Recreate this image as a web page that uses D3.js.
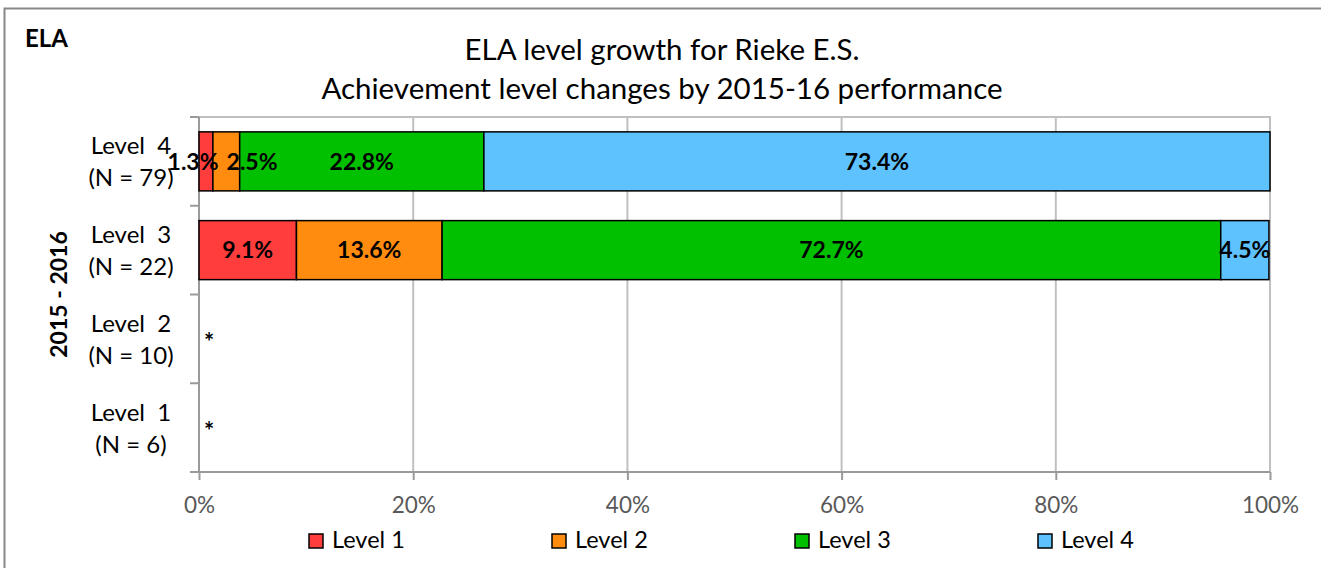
<!DOCTYPE html>
<html>
<head>
<meta charset="utf-8">
<script src="https://cdn.jsdelivr.net/npm/d3@7"></script>
<style>
  body { margin: 0; background: #fff; overflow: hidden; }
  svg { display: block; font-family: Lato, "Open Sans", sans-serif; }
</style>
</head>
<body>
<svg id="chart" width="1321" height="568"></svg>
<script>
// chart data
const categories = ['Level 4', 'Level 3', 'Level 2', 'Level 1'];
const counts = [79, 22, 10, 6];
const suppressed = [false, false, true, true];
const seriesNames = ['Level 1', 'Level 2', 'Level 3', 'Level 4'];
const level1Pct = [1.3, 9.1, 0, 0];
const level2Pct = [2.5, 13.6, 0, 0];
const level3Pct = [22.8, 72.7, 0, 0];
const level4Pct = [73.4, 4.5, 0, 0];
const xTicks = [0, 20, 40, 60, 80, 100];
const colors = ['#ff3d3d', '#ff8c0f', '#00c000', '#5ec2ff'];

const rows = categories.map((cat, i) => ({
  cat,
  n: counts[i],
  suppressed: suppressed[i],
  'Level 1': level1Pct[i],
  'Level 2': level2Pct[i],
  'Level 3': level3Pct[i],
  'Level 4': level4Pct[i],
}));

const svg = d3.select('#chart');
const plot = { left: 199, right: 1270, top: 117, bottom: 472 };
const axisGray = '#9a9a9a';

// outer frame, only the left and top edges are inside the picture
svg.append('path')
  .attr('d', 'M4.5,568V8.5H1321')
  .attr('fill', 'none').attr('stroke', '#888').attr('stroke-width', 2);

svg.append('text')
  .attr('x', 25).attr('y', 47)
  .attr('font-size', 24).attr('font-weight', 'bold')
  .text('ELA');

// titles
const titleLines = ['ELA level growth for Rieke E.S.', 'Achievement level changes by 2015-16 performance'];
svg.selectAll('text.title')
  .data(titleLines)
  .join('text')
  .attr('class', 'title')
  .attr('x', 662).attr('y', (d, i) => 60 + i * 39)
  .attr('text-anchor', 'middle')
  .attr('font-size', 29.5)
  .text(d => d);

const x = d3.scaleLinear().domain([0, 100]).range([plot.left, plot.right]);
const y = d3.scaleBand().domain(categories)
  .range([plot.top, plot.bottom])
  .paddingInner(0.335).paddingOuter(0.1675);

// vertical gridlines
svg.append('g')
  .selectAll('line')
  .data(xTicks)
  .join('line')
  .attr('x1', d => x(d)).attr('x2', d => x(d))
  .attr('y1', plot.top).attr('y2', plot.bottom)
  .attr('stroke', '#c0c0c0').attr('stroke-width', 2);

// top border of the plot
svg.append('line')
  .attr('x1', plot.left - 9).attr('x2', plot.right + 1)
  .attr('y1', plot.top).attr('y2', plot.top)
  .attr('stroke', '#c0c0c0').attr('stroke-width', 2);

// bottom axis
const xAxis = d3.axisBottom(x)
  .tickValues(xTicks)
  .tickSize(8)
  .tickFormat(d => d + '%');
const xAxisGroup = svg.append('g')
  .attr('transform', `translate(0,${plot.bottom})`)
  .call(xAxis);
xAxisGroup.select('.domain').attr('stroke', axisGray).attr('stroke-width', 2)
  .attr('d', `M${plot.left},0H${plot.right}`);
xAxisGroup.selectAll('.tick line').attr('stroke', axisGray).attr('stroke-width', 2);
xAxisGroup.selectAll('.tick text')
  .attr('y', 41).attr('dy', 0)
  .attr('font-size', 22.5).attr('fill', '#595959')
  .attr('font-family', 'Lato, "Open Sans", sans-serif');

// left axis line + band boundary ticks
svg.append('line')
  .attr('x1', plot.left).attr('x2', plot.left)
  .attr('y1', plot.top).attr('y2', plot.bottom)
  .attr('stroke', axisGray).attr('stroke-width', 2);
const bandEdges = d3.range(categories.length + 1)
  .map(i => plot.top + i * (plot.bottom - plot.top) / categories.length);
svg.append('g')
  .selectAll('line')
  .data(bandEdges)
  .join('line')
  .attr('x1', plot.left - 9).attr('x2', plot.left)
  .attr('y1', d => d).attr('y2', d => d)
  .attr('stroke', axisGray).attr('stroke-width', 2);

// category labels (two lines)
const catLabels = svg.append('g')
  .selectAll('text')
  .data(rows)
  .join('text')
  .attr('text-anchor', 'middle')
  .attr('font-size', 24);
catLabels.append('tspan')
  .attr('x', 131)
  .attr('y', d => y(d.cat) + y.bandwidth() / 2 - 7)
  .attr('xml:space', 'preserve')
  .text(d => d.cat.replace(' ', '  '));
catLabels.append('tspan')
  .attr('x', 131)
  .attr('y', d => y(d.cat) + y.bandwidth() / 2 + 25)
  .text(d => `(N = ${d.n})`);

// y axis title
svg.append('text')
  .attr('transform', `translate(67,${(plot.top + plot.bottom) / 2}) rotate(-90)`)
  .attr('text-anchor', 'middle')
  .attr('font-size', 23).attr('font-weight', 'bold')
  .text('2015 - 2016');

// stacked bars
const stacked = d3.stack().keys(seriesNames)(rows);
const layers = svg.append('g')
  .selectAll('g')
  .data(stacked)
  .join('g')
  .attr('fill', (d, i) => colors[i]);

const visible = d => d.filter(s => !s.data.suppressed);

layers.selectAll('rect')
  .data(visible)
  .join('rect')
  .attr('x', s => x(s[0]))
  .attr('y', s => y(s.data.cat))
  .attr('width', s => x(s[1]) - x(s[0]))
  .attr('height', y.bandwidth())
  .attr('stroke', '#000').attr('stroke-width', 1.5);

// value labels go on top of all the bars
const labelGroup = svg.append('g');
stacked.forEach(layer => {
  labelGroup.selectAll(null)
    .data(visible(layer))
    .join('text')
    .attr('class', 'value-label')
    .attr('x', s => (x(s[0]) + x(s[1])) / 2)
    .attr('y', s => y(s.data.cat) + y.bandwidth() / 2)
    .attr('dy', '0.36em')
    .attr('text-anchor', 'middle')
    .attr('fill', '#000')
    .attr('font-size', 23).attr('font-weight', 'bold')
    .text(s => d3.format('.1f')(s.data[layer.key]) + '%');
});

// labels of thin segments would sit on each other, so push them apart
categories.forEach(cat => {
  const labels = labelGroup.selectAll('text.value-label')
    .filter(s => s.data.cat === cat)
    .nodes()
    .sort((a, b) => +a.getAttribute('x') - +b.getAttribute('x'));
  for (let i = 1; i < labels.length; i++) {
    const prev = labels[i - 1];
    const cur = labels[i];
    const px = +prev.getAttribute('x');
    const cx = +cur.getAttribute('x');
    const need = (prev.getComputedTextLength() + cur.getComputedTextLength()) / 2 + 8;
    const overlap = need - (cx - px);
    if (overlap > 0) {
      prev.setAttribute('x', px - overlap / 3);
      cur.setAttribute('x', cx + overlap * 2 / 3);
    }
  }
});

// suppressed rows show an asterisk
svg.append('g')
  .selectAll('text')
  .data(rows.filter(r => r.suppressed))
  .join('text')
  .attr('x', plot.left + 5)
  .attr('y', d => y(d.cat) + y.bandwidth() / 2 + 12)
  .attr('font-size', 24).attr('font-weight', 'bold')
  .text('*');

// legend
const legendX = [309, 552, 795, 1038];
const legend = svg.append('g')
  .selectAll('g')
  .data(seriesNames)
  .join('g')
  .attr('transform', (d, i) => `translate(${legendX[i]},534)`);
legend.append('rect')
  .attr('width', 14).attr('height', 14)
  .attr('fill', (d, i) => colors[i])
  .attr('stroke', '#000').attr('stroke-width', 1.5);
legend.append('text')
  .attr('x', 23).attr('y', 14)
  .attr('font-size', 23.5)
  .text(d => d);
</script>
</body>
</html>
